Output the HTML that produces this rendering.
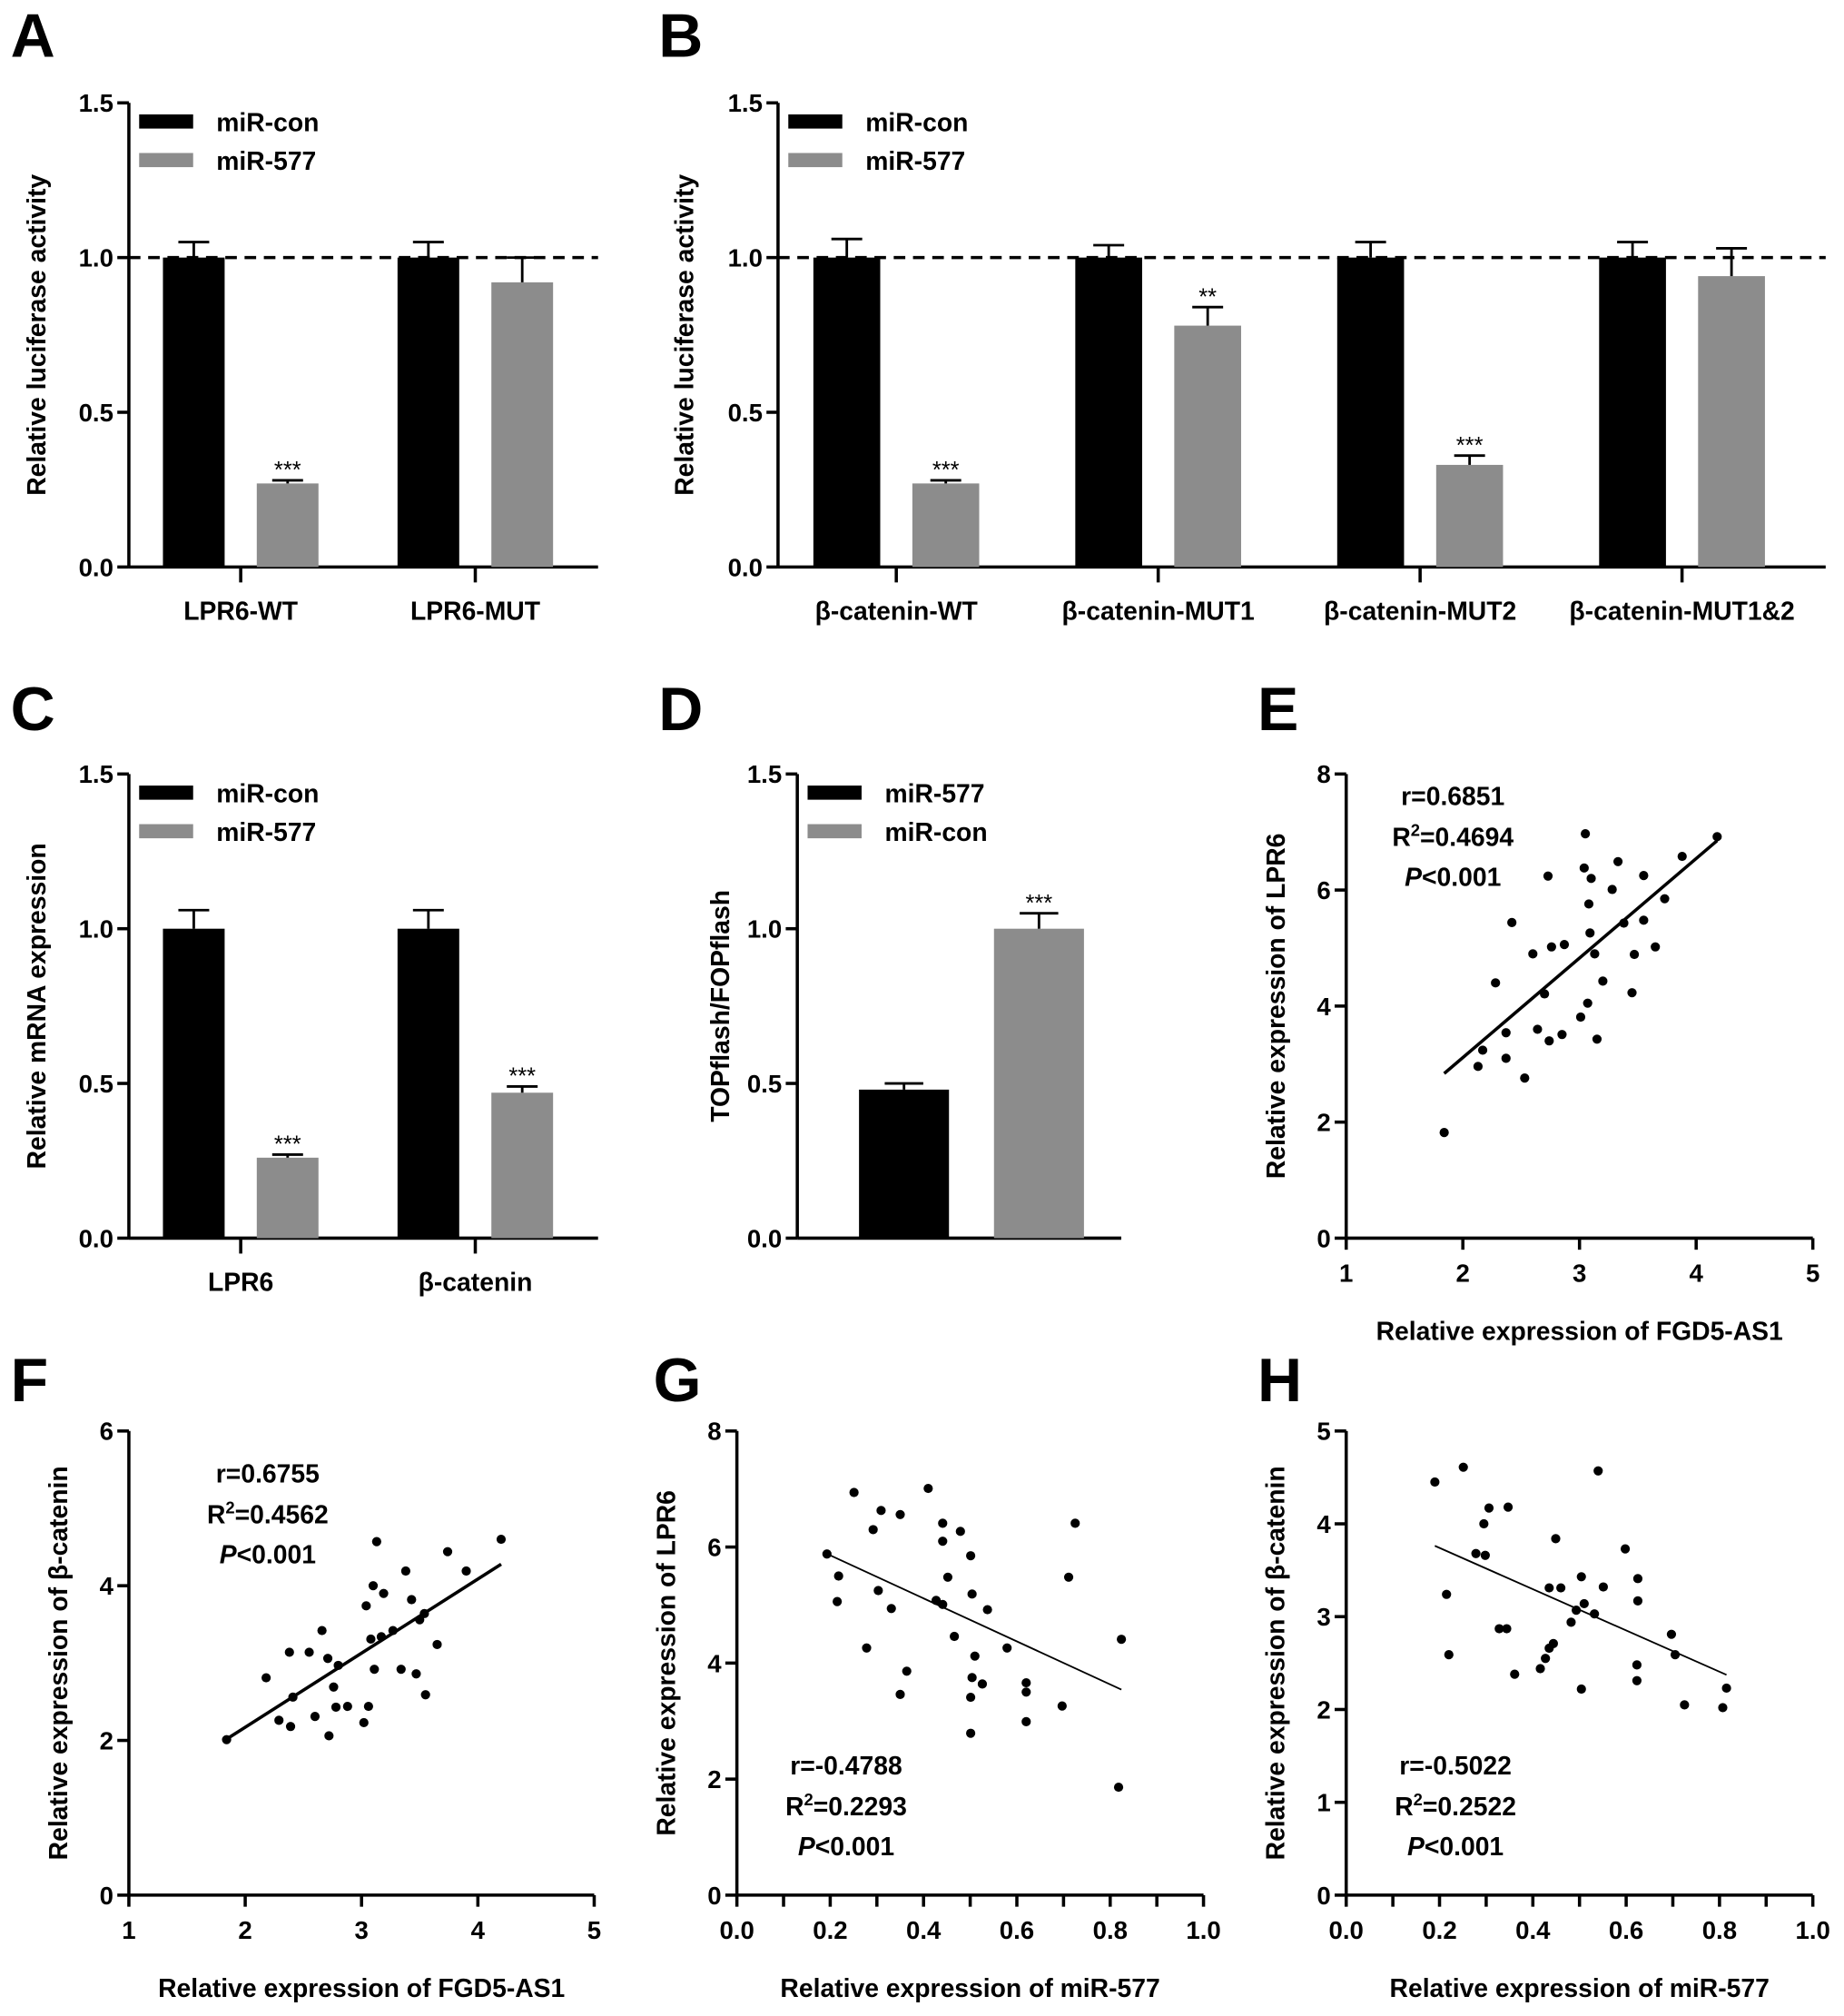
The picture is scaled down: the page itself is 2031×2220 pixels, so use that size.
<!DOCTYPE html>
<html><head><meta charset="utf-8"><style>
html,body{margin:0;padding:0;background:#fff;}
svg{display:block;font-family:"Liberation Sans",Arial,sans-serif;font-weight:bold;}
</style></head><body>
<svg id="fig" width="2031" height="2220" viewBox="0 0 1434 1568" xmlns="http://www.w3.org/2000/svg"></svg>
<script>
// ---------- Data ----------
const aCategories = ["LPR6-WT", "LPR6-MUT"];
const aCon = [1.0, 1.0];
const aConErr = [0.05, 0.05];
const a577 = [0.27, 0.92];
const a577Err = [0.01, 0.08];
const aSig = ["***", ""];

const bCategories = ["β-catenin-WT", "β-catenin-MUT1", "β-catenin-MUT2", "β-catenin-MUT1&2"];
const bCon = [1.0, 1.0, 1.0, 1.0];
const bConErr = [0.06, 0.04, 0.05, 0.05];
const b577 = [0.27, 0.78, 0.33, 0.94];
const b577Err = [0.01, 0.06, 0.03, 0.09];
const bSig = ["***", "**", "***", ""];

const cCategories = ["LPR6", "β-catenin"];
const cCon = [1.0, 1.0];
const cConErr = [0.06, 0.06];
const c577 = [0.26, 0.47];
const c577Err = [0.01, 0.02];
const cSig = ["***", "***"];

const dLabels = ["miR-577", "miR-con"];
const dValues = [0.48, 1.0];
const dErr = [0.02, 0.05];
const dSig = ["", "***"];

const barTicks = [0, 0.5, 1.0, 1.5];
const barTickLabels = ["0.0", "0.5", "1.0", "1.5"];

const eX = [1.84,2.13,2.17,2.28,2.37,2.37,2.42,2.53,2.60,2.64,2.70,2.73,2.74,2.76,2.85,2.87,3.01,3.04,3.05,3.07,3.08,3.09,3.10,3.13,3.15,3.20,3.28,3.33,3.38,3.45,3.47,3.55,3.55,3.65,3.73,3.88,4.18];
const eY = [1.82,2.96,3.24,4.40,3.54,3.10,5.44,2.76,4.90,3.60,4.21,6.24,3.40,5.02,3.51,5.06,3.81,6.38,6.97,4.05,5.76,5.26,6.20,4.90,3.43,4.43,6.01,6.49,5.43,4.23,4.89,6.25,5.48,5.02,5.85,6.58,6.92];

const fX = [1.84,2.18,2.29,2.38,2.39,2.41,2.55,2.60,2.66,2.71,2.76,2.78,2.72,2.80,2.88,3.02,3.04,3.06,3.08,3.10,3.11,3.13,3.17,3.19,3.27,3.34,3.38,3.43,3.50,3.47,3.55,3.54,3.65,3.74,3.90,4.20];
const fY = [2.01,2.81,2.26,3.14,2.18,2.56,3.14,2.31,3.42,3.06,2.69,2.43,2.06,2.97,2.44,2.23,3.74,2.44,3.31,4.00,2.92,4.57,3.34,3.90,3.42,2.92,4.19,3.82,3.56,2.86,2.59,3.64,3.24,4.44,4.19,4.60];

const gX = [0.193,0.218,0.215,0.251,0.309,0.292,0.350,0.303,0.331,0.278,0.364,0.350,0.410,0.441,0.441,0.479,0.452,0.427,0.441,0.466,0.501,0.504,0.537,0.510,0.504,0.501,0.526,0.579,0.620,0.620,0.620,0.697,0.711,0.725,0.824,0.818,0.501];
const gY = [5.88,5.50,5.06,6.94,6.63,6.30,6.56,5.25,4.94,4.26,3.86,3.46,7.01,6.41,6.10,6.27,5.48,5.08,5.01,4.46,5.85,5.19,4.92,4.12,3.75,3.41,3.64,4.26,3.66,3.50,2.99,3.26,5.48,6.41,4.41,1.86,2.79];

const hX = [0.190,0.251,0.215,0.220,0.278,0.298,0.306,0.295,0.347,0.328,0.344,0.361,0.449,0.435,0.460,0.444,0.435,0.416,0.427,0.482,0.493,0.504,0.510,0.532,0.504,0.540,0.551,0.598,0.625,0.625,0.623,0.623,0.697,0.705,0.725,0.815,0.807];
const hY = [4.45,4.61,3.24,2.59,3.68,3.66,4.17,4.00,4.18,2.87,2.87,2.38,3.84,3.31,3.31,2.71,2.66,2.44,2.55,2.94,3.07,3.43,3.14,3.03,2.22,4.57,3.32,3.73,3.41,3.17,2.48,2.31,2.81,2.59,2.05,2.23,2.02];

const fracTicks = [0, 0.2, 0.4, 0.6, 0.8, 1.0];
const fracLabels = ["0.0", "0.2", "0.4", "0.6", "0.8", "1.0"];
const intTicks = [1, 2, 3, 4, 5];
const intLabels = ["1", "2", "3", "4", "5"];

// ---------- Helpers ----------
const NS = "http://www.w3.org/2000/svg";
const svg = document.getElementById("fig");
function mk(tag, attrs, parent, name, text) {
  const el = document.createElementNS(NS, tag);
  for (const k in attrs) el.setAttribute(k, attrs[k]);
  
  
  if (text !== undefined) el.textContent = text;
  (parent || svg).appendChild(el);
  return el;
}
function lin(d0, d1, r0, r1) { return v => r0 + (v - d0) * (r1 - r0) / (d1 - d0); }

const TICK_FS = 19.5, TITLE_FS = 20, CAT_FS = 20, LEG_FS = 20;

function panelLetter(letter, x, y) {
  mk("text", {x: x, y: y, "font-size": 48, fill: "#000"}, svg, "panel-label-" + letter.toLowerCase(), letter);
}

function yAxis(g, x, yS, ticks, labels, prefix) {
  mk("line", {x1: x, y1: yS(ticks[0]), x2: x, y2: yS(ticks[ticks.length - 1]), stroke: "#000", "stroke-width": 2.5}, g, prefix + "-y-axis-line");
  ticks.forEach((t, i) => {
    mk("line", {x1: x - 9, y1: yS(t), x2: x, y2: yS(t), stroke: "#000", "stroke-width": 2.5}, g, prefix + "-y-tick");
    mk("text", {x: x - 12, y: yS(t) + 7, "font-size": TICK_FS, "text-anchor": "end"}, g, prefix + "-y-tick-label", labels[i]);
  });
}

function legend(g, x, y, entries, colors, prefix) {
  entries.forEach((e, i) => {
    mk("rect", {x: x, y: y + i * 30 - 6, width: 42, height: 11, fill: colors[i]}, g, prefix + "-legend-swatch");
    mk("text", {x: x + 60, y: y + i * 30 + 7, "font-size": LEG_FS}, g, prefix + "-legend-entry", e);
  });
}

function errBar(g, cx, yS, v, e, w, prefix) {
  mk("line", {x1: cx, y1: yS(v), x2: cx, y2: yS(v + e), stroke: "#000", "stroke-width": 2}, g, prefix + "-error-bar");
  mk("line", {x1: cx - w / 2, y1: yS(v + e), x2: cx + w / 2, y2: yS(v + e), stroke: "#000", "stroke-width": 2}, g, prefix + "-error-cap");
}

function groupedBars(cfg) {
  const g = mk("g", {}, svg, cfg.name);
  const yS = lin(0, 1.5, cfg.y0, cfg.y1);
  const n = cfg.cats.length;
  const step = (cfg.xr - cfg.x0) / n;
  mk("line", {x1: cfg.x0, y1: cfg.y0, x2: cfg.xr, y2: cfg.y0, stroke: "#000", "stroke-width": 2.5}, g, cfg.name + "-x-axis-line");
  yAxis(g, cfg.x0, yS, barTicks, barTickLabels, cfg.name);
  if (cfg.dashed) mk("line", {x1: cfg.x0, y1: yS(1), x2: cfg.xr, y2: yS(1), stroke: "#000", "stroke-width": 2.5, "stroke-dasharray": "9,6"}, g, cfg.name + "-reference-line");
  cfg.cats.forEach((c, i) => {
    const cx = cfg.x0 + cfg.offset + step * i;
    const bx1 = cx - cfg.gap / 2 - cfg.bw, bx2 = cx + cfg.gap / 2;
    mk("rect", {x: bx1, y: yS(cfg.con[i]), width: cfg.bw, height: cfg.y0 - yS(cfg.con[i]), fill: "#000"}, g, cfg.name + "-bar-con-" + i);
    errBar(g, bx1 + cfg.bw / 2, yS, cfg.con[i], cfg.conErr[i], 24, cfg.name);
    mk("rect", {x: bx2, y: yS(cfg.mir[i]), width: cfg.bw, height: cfg.y0 - yS(cfg.mir[i]), fill: "#8c8c8c"}, g, cfg.name + "-bar-mir577-" + i);
    errBar(g, bx2 + cfg.bw / 2, yS, cfg.mir[i], cfg.mirErr[i], 24, cfg.name);
    if (cfg.sig[i]) mk("text", {x: bx2 + cfg.bw / 2, y: yS(cfg.mir[i] + cfg.mirErr[i]) - 2, "font-size": 18, "font-weight": "normal", "text-anchor": "middle"}, g, cfg.name + "-significance", cfg.sig[i]);
    mk("line", {x1: cx, y1: cfg.y0, x2: cx, y2: cfg.y0 + 12, stroke: "#000", "stroke-width": 2.5}, g, cfg.name + "-x-tick");
    mk("text", {x: cx, y: cfg.y0 + 41, "font-size": CAT_FS, "text-anchor": "middle"}, g, cfg.name + "-x-tick-label", c);
  });
  legend(g, cfg.x0 + 8, cfg.y1 + 15, ["miR-con", "miR-577"], ["#000", "#8c8c8c"], cfg.name);
  const ym = (cfg.y0 + cfg.y1) / 2;
  mk("text", {x: cfg.titleX, y: ym, "font-size": TITLE_FS, "text-anchor": "middle", transform: `rotate(-90 ${cfg.titleX} ${ym})`}, g, cfg.name + "-y-axis-title", cfg.title);
}

function scatter(cfg) {
  const g = mk("g", {}, svg, cfg.name);
  const xS = lin(cfg.xd[0], cfg.xd[1], cfg.x0, cfg.x1);
  const yS = lin(0, cfg.ymax, cfg.y0, cfg.y1);
  mk("line", {x1: cfg.x0, y1: cfg.y0, x2: cfg.x1, y2: cfg.y0, stroke: "#000", "stroke-width": 2.5}, g, cfg.name + "-x-axis-line");
  yAxis(g, cfg.x0, yS, cfg.yTicks, cfg.yTicks.map(String), cfg.name);
  cfg.xMinor.forEach(t => {
    mk("line", {x1: xS(t), y1: cfg.y0, x2: xS(t), y2: cfg.y0 + 9, stroke: "#000", "stroke-width": 2.5}, g, cfg.name + "-x-tick");
  });
  cfg.xTicks.forEach((t, i) => {
    mk("text", {x: xS(t), y: cfg.y0 + 34, "font-size": TICK_FS, "text-anchor": "middle"}, g, cfg.name + "-x-tick-label", cfg.xLabels[i]);
  });
  cfg.xs.forEach((v, i) => {
    mk("circle", {cx: xS(v), cy: yS(cfg.ys[i]), r: 3.6, fill: "#000"}, g, cfg.name + "-point");
  });
  const n = cfg.xs.length;
  const mx = cfg.xs.reduce((a, b) => a + b, 0) / n, my = cfg.ys.reduce((a, b) => a + b, 0) / n;
  let sxy = 0, sxx = 0;
  cfg.xs.forEach((v, i) => { sxy += (v - mx) * (cfg.ys[i] - my); sxx += (v - mx) * (v - mx); });
  const m = sxy / sxx, b = my - m * mx;
  const xmin = Math.min(...cfg.xs), xmax = Math.max(...cfg.xs);
  mk("line", {x1: xS(xmin), y1: yS(m * xmin + b), x2: xS(xmax), y2: yS(m * xmax + b), stroke: "#000", "stroke-width": cfg.lw}, g, cfg.name + "-regression-line");
  const ax = cfg.annX, ay = cfg.annY;
  mk("text", {x: ax, y: ay, "font-size": 20, "text-anchor": "middle"}, g, cfg.name + "-r-value", cfg.ann[0]);
  const t2 = mk("text", {x: ax, y: ay + 32, "font-size": 20, "text-anchor": "middle"}, g, cfg.name + "-r-squared");
  t2.innerHTML = 'R<tspan dy="-8" font-size="13">2</tspan><tspan dy="8">' + cfg.ann[1] + '</tspan>';
  const t3 = mk("text", {x: ax, y: ay + 63, "font-size": 20, "text-anchor": "middle"}, g, cfg.name + "-p-value");
  t3.innerHTML = '<tspan font-style="italic">P</tspan>&lt;0.001';
  mk("text", {x: (cfg.x0 + cfg.x1) / 2, y: cfg.y0 + 79, "font-size": TITLE_FS, "text-anchor": "middle"}, g, cfg.name + "-x-axis-title", cfg.xTitle);
  const ym = (cfg.y0 + cfg.y1) / 2;
  mk("text", {x: cfg.titleX, y: ym, "font-size": TITLE_FS, "text-anchor": "middle", transform: `rotate(-90 ${cfg.titleX} ${ym})`}, g, cfg.name + "-y-axis-title", cfg.yTitle);
}

// ---------- Panels ----------
panelLetter("A", 8, 44);
groupedBars({name: "panel-a", cats: aCategories, con: aCon, conErr: aConErr, mir: a577, mirErr: a577Err, sig: aSig,
  x0: 100, xr: 465, y0: 441, y1: 80, offset: 87, gap: 25, bw: 48, dashed: true, titleX: 35, title: "Relative luciferase activity"});

panelLetter("B", 512, 44);
groupedBars({name: "panel-b", cats: bCategories, con: bCon, conErr: bConErr, mir: b577, mirErr: b577Err, sig: bSig,
  x0: 605, xr: 1420, y0: 441, y1: 80, offset: 92, gap: 25, bw: 52, dashed: true, titleX: 539, title: "Relative luciferase activity"});

panelLetter("C", 8, 568);
groupedBars({name: "panel-c", cats: cCategories, con: cCon, conErr: cConErr, mir: c577, mirErr: c577Err, sig: cSig,
  x0: 100, xr: 465, y0: 963, y1: 602, offset: 87, gap: 25, bw: 48, dashed: false, titleX: 35, title: "Relative mRNA expression"});

panelLetter("D", 512, 568);
(function () {
  const g = mk("g", {}, svg, "panel-d");
  const x0 = 620, xr = 872, y0 = 963, y1 = 602;
  const yS = lin(0, 1.5, y0, y1);
  mk("line", {x1: x0, y1: y0, x2: xr, y2: y0, stroke: "#000", "stroke-width": 2.5}, g, "panel-d-x-axis-line");
  yAxis(g, x0, yS, barTicks, barTickLabels, "panel-d");
  const colors = ["#000", "#8c8c8c"];
  const bw = 70, step = 105, first = 668;
  dLabels.forEach((l, i) => {
    const bx = first + step * i;
    mk("rect", {x: bx, y: yS(dValues[i]), width: bw, height: y0 - yS(dValues[i]), fill: colors[i]}, g, "panel-d-bar-" + i);
    errBar(g, bx + bw / 2, yS, dValues[i], dErr[i], 30, "panel-d");
    if (dSig[i]) mk("text", {x: bx + bw / 2, y: yS(dValues[i] + dErr[i]) - 2, "font-size": 18, "font-weight": "normal", "text-anchor": "middle"}, g, "panel-d-significance", dSig[i]);
  });
  legend(g, x0 + 8, y1 + 15, dLabels, colors, "panel-d");
  const ym = (y0 + y1) / 2;
  mk("text", {x: 567, y: ym, "font-size": TITLE_FS, "text-anchor": "middle", transform: `rotate(-90 567 ${ym})`}, g, "panel-d-y-axis-title", "TOPflash/FOPflash");
})();

const tenths = [0,0.1,0.2,0.3,0.4,0.5,0.6,0.7,0.8,0.9,1.0];

panelLetter("E", 978, 568);
scatter({name: "panel-e", xs: eX, ys: eY, x0: 1047, x1: 1410, y0: 963, y1: 602, xd: [1, 5], ymax: 8,
  yTicks: [0, 2, 4, 6, 8], xMinor: intTicks, xTicks: intTicks, xLabels: intLabels, lw: 2.5,
  annX: 1130, annY: 626, ann: ["r=0.6851", "=0.4694"], xTitle: "Relative expression of FGD5-AS1", yTitle: "Relative expression of LPR6", titleX: 999});

panelLetter("F", 8, 1090);
scatter({name: "panel-f", xs: fX, ys: fY, x0: 100, x1: 462, y0: 1474, y1: 1113, xd: [1, 5], ymax: 6,
  yTicks: [0, 2, 4, 6], xMinor: intTicks, xTicks: intTicks, xLabels: intLabels, lw: 2.5,
  annX: 208, annY: 1153, ann: ["r=0.6755", "=0.4562"], xTitle: "Relative expression of FGD5-AS1", yTitle: "Relative expression of β-catenin", titleX: 52});

panelLetter("G", 508, 1090);
scatter({name: "panel-g", xs: gX, ys: gY, x0: 573, x1: 936, y0: 1474, y1: 1113, xd: [0, 1], ymax: 8,
  yTicks: [0, 2, 4, 6, 8], xMinor: tenths, xTicks: fracTicks, xLabels: fracLabels, lw: 1.3,
  annX: 658, annY: 1380, ann: ["r=-0.4788", "=0.2293"], xTitle: "Relative expression of miR-577", yTitle: "Relative expression of LPR6", titleX: 525});

panelLetter("H", 978, 1090);
scatter({name: "panel-h", xs: hX, ys: hY, x0: 1047, x1: 1410, y0: 1474, y1: 1113, xd: [0, 1], ymax: 5,
  yTicks: [0, 1, 2, 3, 4, 5], xMinor: tenths, xTicks: fracTicks, xLabels: fracLabels, lw: 1.3,
  annX: 1132, annY: 1380, ann: ["r=-0.5022", "=0.2522"], xTitle: "Relative expression of miR-577", yTitle: "Relative expression of β-catenin", titleX: 999});
</script>
</body></html>
